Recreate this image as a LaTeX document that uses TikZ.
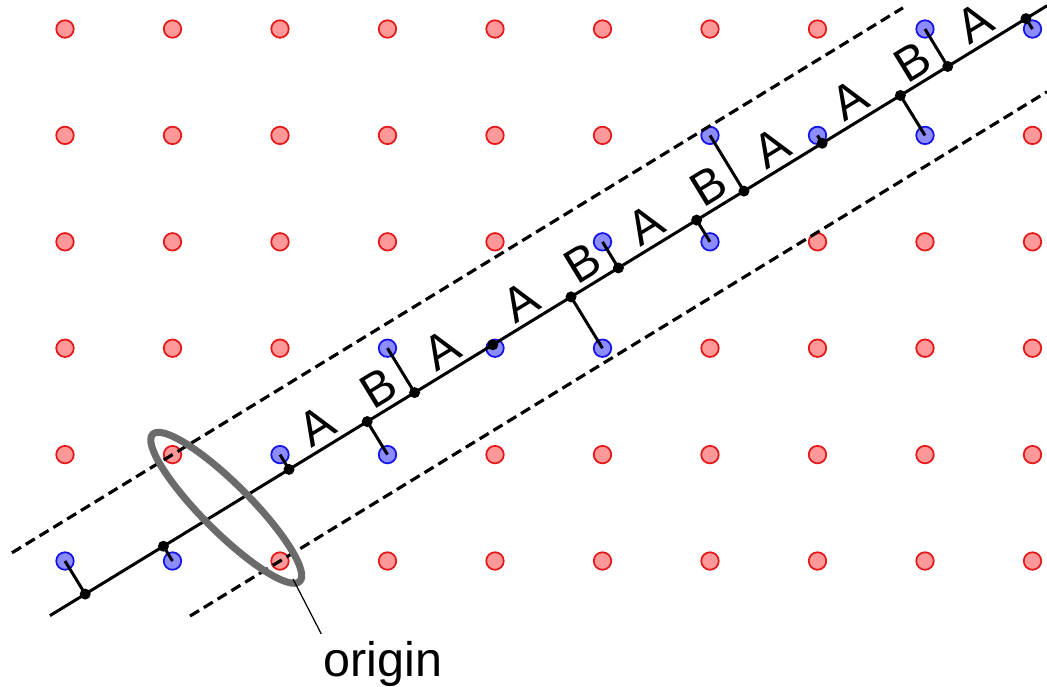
\documentclass[tikz,border=0pt]{standalone}
\usepackage{fontspec}
\setmainfont{Liberation Sans}
\usetikzlibrary{calc,shapes.geometric}
\tikzset{
  reddot/.style={circle, draw={rgb,255:red,228;green,24;blue,24}, fill=red!40, line width=0.5pt, minimum size=0.175cm, inner sep=0pt},
  bluedot/.style={circle, draw={rgb,255:red,20;green,20;blue,230}, fill=blue!45, line width=0.5pt, minimum size=0.175cm, inner sep=0pt},
  footdot/.style={circle, fill=black, minimum size=0.11cm, inner sep=0pt},
  cutline/.style={line width=0.85pt},
  stripedge/.style={line width=0.9pt, dash pattern=on 3pt off 1.6pt},
  tile/.style={sloped, above, inner sep=1.5pt, font=\fontsize{13.8}{16}\selectfont},
}
\begin{document}
\begin{tikzpicture}
  \useasboundingbox (0,0) rectangle (10.47,6.86);
  \begin{scope}[shift={(0.65,1.25)}, x=1.075cm, y=1.064cm]
  % lattice points outside the strip
  \foreach \i in {0,...,9}
    \foreach \j in {0,...,5} {
      \pgfmathtruncatemacro\inside{and(\j-0.618034*\i>-1.23, \j-0.618034*\i<0.38)}
      \ifnum\inside=0 \node[reddot] (r-\i-\j) at (\i,\j) {}; \fi
    }
  % strip and cut line
  \coordinate (U1) at (-0.493,0.0773);
  \coordinate (U2) at (7.795,5.1995);
  \coordinate (D1) at (1.163,-0.5173);
  \coordinate (D2) at (9.135,4.4097);
  \coordinate (L1) at (-0.14,-0.5136);
  \coordinate (L2) at (9.135,5.2187);
  % points inside the strip and their feet on the line
  \foreach \i/\j [count=\k] in {0/0,1/0,2/1,3/1,3/2,4/2,5/2,5/3,6/3,6/4,7/4,8/4,8/5,9/5} {
    \node[bluedot] (b\k) at (\i,\j) {};
    \coordinate (f\k) at ($(L1)!(b\k.center)!(L2)$);
  }
  \draw[stripedge] (U1) -- (U2);
  \draw[stripedge] (D1) -- (D2);
  \draw[cutline] (L1) -- (L2);
  \foreach \k in {1,...,14} {
    \draw[cutline] (b\k.center) -- (f\k);
    \node[footdot] (d\k) at (f\k) {};
  }
  % tiles
  \foreach \k/\t in {3/A,4/B,5/A,6/A,7/B,8/A,9/B,10/A,11/A,12/B,13/A} {
    \pgfmathtruncatemacro\n{\k+1}
    \path (d\k.center) -- node[tile] (t\k) {\t} (d\n.center);
  }
  % window at the origin
  \node[ellipse, draw=black!58, line width=2pt, rotate=-45, minimum width=2.08cm, minimum height=0.48cm, inner sep=0pt] (window) at (1.5,0.5) {};
  \coordinate (tip) at (2.121,-0.169);
  \node[anchor=base west, inner sep=0pt, font=\fontsize{13.8}{16}\selectfont] (originlabel) at (2.40,-1.081) {origin};
  \draw[line width=0.35pt] (tip) -- ([shift={(-0.5pt,1.8pt)}]originlabel.north west);
  \end{scope}
\end{tikzpicture}
\end{document}
